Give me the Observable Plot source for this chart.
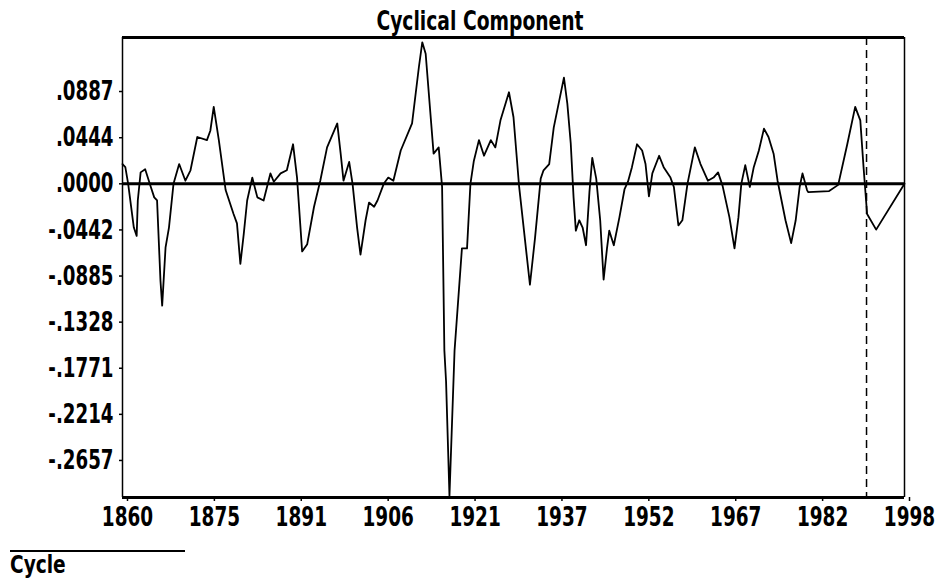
<!DOCTYPE html>
<html>
<head>
<meta charset="utf-8">
<script src="https://cdn.jsdelivr.net/npm/d3@7"></script>
<script src="https://cdn.jsdelivr.net/npm/@observablehq/plot@0.6"></script>
<style>
  html, body { margin: 0; padding: 0; background: #fff; }
  #wrap { position: relative; width: 948px; height: 581px; overflow: hidden; }
  .f { font-family: "Liberation Sans Narrow", "DejaVu Sans Condensed", "Arial Narrow", sans-serif; font-weight: bold; color: #000; }
  #title { position: absolute; top: 6px; left: 480px; transform: translateX(-50%) scaleX(0.8); transform-origin: 50% 50%; font-size: 26px; white-space: nowrap; line-height: 30px; }
  #caption { position: absolute; left: 10px; top: 550px; width: 175px; border-top: 2px solid #000; font-size: 24px; line-height: 26px; }
  #caption span { display: inline-block; transform: scaleX(0.86); transform-origin: 0 50%; }
</style>
</head>
<body>
<div id="wrap">
  <div id="chart"></div>
  <div id="title" class="f"></div>
  <div id="caption" class="f"><span></span></div>
</div>
<script>
const titleText = "Cyclical Component";
const captionText = "Cycle";

const years = [1860.0,1860.5,1861.0,1862.0,1862.5,1862.7,1863.2,1864.0,1865.0,1865.6,1866.1,1866.7,1867.0,1867.6,1868.2,1869.0,1870.0,1871.1,1872.0,1873.2,1874.9,1875.5,1876.1,1877.0,1878.2,1879.6,1880.2,1880.8,1881.4,1882.0,1882.9,1883.8,1884.9,1885.5,1886.1,1886.7,1887.9,1889.0,1890.1,1890.8,1891.7,1892.6,1893.8,1894.9,1896.1,1897.9,1898.5,1899.0,1900.0,1900.6,1901.4,1902.0,1902.9,1903.5,1904.4,1905.0,1906.1,1906.9,1907.8,1909.1,1911.1,1912.3,1912.9,1913.5,1914.9,1915.8,1916.4,1916.8,1917.1,1917.7,1918.6,1919.9,1920.8,1921.4,1922.0,1922.9,1923.8,1925.0,1925.8,1926.7,1928.2,1929.0,1930.0,1931.9,1932.8,1933.8,1934.3,1935.3,1936.1,1937.9,1938.5,1939.1,1939.6,1940.0,1940.6,1941.2,1941.8,1942.4,1942.9,1943.6,1944.3,1944.9,1945.5,1945.9,1946.7,1947.7,1948.6,1949.2,1949.9,1950.8,1951.7,1952.3,1952.9,1953.5,1954.7,1955.5,1956.7,1957.3,1958.1,1958.8,1959.7,1961.0,1962.0,1963.3,1964.3,1965.1,1965.9,1967.1,1968.0,1968.7,1969.2,1969.9,1970.7,1971.4,1972.3,1973.2,1974.0,1974.9,1975.6,1977.0,1978.0,1978.8,1979.5,1980.0,1980.8,1981.0,1984.7,1986.3,1987.9,1989.3,1990.2,1990.8,1991.4,1993.0,1998.0];

const cycle = [0.019,0.016,0.000,-0.042,-0.050,-0.016,0.011,0.014,-0.003,-0.013,-0.016,-0.093,-0.117,-0.061,-0.042,0.000,0.019,0.003,0.013,0.045,0.042,0.051,0.074,0.042,-0.006,-0.029,-0.038,-0.077,-0.048,-0.016,0.006,-0.013,-0.016,-0.003,0.010,0.002,0.010,0.013,0.038,0.006,-0.065,-0.058,-0.022,0.003,0.035,0.058,0.029,0.003,0.021,0.000,-0.042,-0.068,-0.035,-0.018,-0.022,-0.016,0.000,0.006,0.003,0.032,0.058,0.112,0.136,0.125,0.029,0.035,-0.003,-0.160,-0.190,-0.300,-0.160,-0.062,-0.062,0.000,0.022,0.042,0.027,0.042,0.035,0.061,0.088,0.064,-0.003,-0.097,-0.052,0.005,0.013,0.019,0.054,0.102,0.077,0.039,-0.013,-0.045,-0.035,-0.042,-0.059,-0.008,0.025,0.005,-0.035,-0.092,-0.062,-0.045,-0.059,-0.032,-0.005,0.002,0.016,0.038,0.032,0.019,-0.012,0.010,0.027,0.016,0.006,-0.003,-0.040,-0.035,0.000,0.035,0.019,0.003,0.006,0.011,-0.002,-0.032,-0.062,-0.032,0.000,0.018,-0.003,0.016,0.032,0.053,0.045,0.029,0.003,-0.035,-0.057,-0.035,-0.003,0.010,-0.006,-0.008,-0.007,-0.001,0.038,0.074,0.061,0.014,-0.029,-0.044,0.000];

const xTicks = [1860, 1875.333, 1890.667, 1906, 1921.333, 1936.667, 1952, 1967.333, 1982.667, 1998];
const xTickLabels = ["1860","1875","1891","1906","1921","1937","1952","1967","1982","1998"];
const yTicks = [0.0887, 0.0443, 0, -0.0443, -0.0886, -0.1329, -0.1772, -0.2215, -0.2658];
const yTickLabels = [".0887",".0444",".0000","-.0442","-.0885","-.1328","-.1771","-.2214","-.2657"];
const xDomain = [1860, 1998];
const yDomain = [-0.3014, 0.1406];
const forecastStart = 1991.3;

const data = years.map((y, i) => ({year: y, value: cycle[i]}));
const xLab = new Map(xTicks.map((v, i) => [v, xTickLabels[i]]));
const yLab = new Map(yTicks.map((v, i) => [v, yTickLabels[i]]));

const font = '"Liberation Sans Narrow", "DejaVu Sans Condensed", "Arial Narrow", sans-serif';

const chart = Plot.plot({
  width: 948,
  height: 581,
  marginLeft: 122,
  marginRight: 44,
  marginTop: 37,
  marginBottom: 84,
  x: {domain: xDomain},
  y: {domain: yDomain},
  style: {fontFamily: font, fontWeight: "bold", fontSize: "27px", color: "#000", background: "#fff", overflow: "visible"},
  marks: [
    Plot.axisX({ticks: xTicks, tickFormat: d => xLab.get(d), tickSize: 4, tickPadding: 5, dx: 5, label: null, stroke: "#000", strokeWidth: 1.5, fill: "#000"}),
    Plot.axisY({ticks: yTicks, tickFormat: d => yLab.get(d), tickSize: 3, tickPadding: 6, label: null, stroke: "#000", strokeWidth: 1.5, fill: "#000"}),
    Plot.ruleY([yDomain[1], yDomain[0]], {stroke: "#000", strokeWidth: 3}),
    Plot.ruleX(xDomain, {stroke: "#000", strokeWidth: 1.5}),
    Plot.ruleY([0], {stroke: "#000", strokeWidth: 3}),
    Plot.ruleX([forecastStart], {stroke: "#000", strokeWidth: 1.5, strokeDasharray: "8,5"}),
    Plot.line(data, {x: "year", y: "value", stroke: "#000", strokeWidth: 1.8, curve: "linear"})
  ]
});

// narrow the tick label glyphs to mimic the condensed bitmap font (keeps em-based vertical offsets)
function squeeze(t, s) {
  const xa = t.getAttribute("x");
  let tx = 0;
  if (xa !== null && !isNaN(+xa)) { tx = +xa; t.removeAttribute("x"); }
  const tr = t.getAttribute("transform") || "";
  t.setAttribute("transform", `${tr} translate(${tx},0) scale(${s},1)`);
}
chart.querySelectorAll('g[aria-label="y-axis tick label"] text').forEach(t => squeeze(t, 0.75));
chart.querySelectorAll('g[aria-label="x-axis tick label"] text').forEach(t => squeeze(t, 0.76));

document.getElementById("chart").appendChild(chart);
document.getElementById("title").textContent = titleText;
document.querySelector("#caption span").textContent = captionText;
</script>
</body>
</html>
